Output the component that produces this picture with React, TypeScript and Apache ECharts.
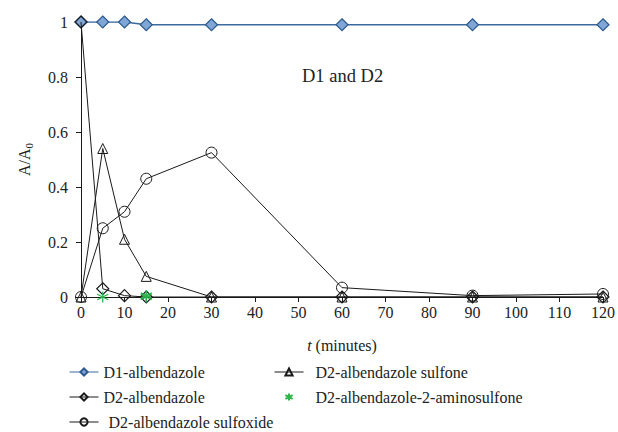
import React, { useEffect, useRef } from "react";
import * as echarts from "echarts";

const times = [0, 5, 10, 15, 30, 60, 90, 120];
const d1Albendazole = [1.0, 1.0, 1.0, 0.99, 0.99, 0.99, 0.99, 0.99];
const d2Albendazole = [1.0, 0.03, 0.005, 0.0, 0.0, 0.0, 0.0, 0.0];
const d2Sulfone = [0.0, 0.54, 0.21, 0.075, 0.0, 0.0, 0.0, 0.0];
const d2Sulfoxide = [0.0, 0.25, 0.31, 0.43, 0.525, 0.034, 0.005, 0.011];
const aminoTimes = [5, 15, 15];
const d2Aminosulfone = [0.0, 0.005, 0.0];
const xTicks = { min: 0, max: 120, interval: 10 };
const yTicks = { min: 0, max: 1, interval: 0.2 };
const legendCol1 = ["D1-albendazole", "D2-albendazole", "D2-albendazole sulfoxide"];
const legendCol2 = ["D2-albendazole sulfone", "D2-albendazole-2-aminosulfone"];

const FONT = "'Liberation Serif', 'Times New Roman', serif";
const asterisk = "path://M0,-5L0,5M-4.33,-2.5L4.33,2.5M-4.33,2.5L4.33,-2.5";

function pairs(xs: number[], ys: number[]) {
  return xs.map((x, i) => [x, ys[i]]);
}

export default function App() {
  const ref = useRef<HTMLDivElement>(null);
  useEffect(() => {
    document.body.style.margin = "0";
    if (!ref.current) return;
    const chart = echarts.init(ref.current, null, { renderer: "svg" });
    const black = "#1a1a1a";
    const rowY = [373, 398, 423];
    const mkLegend = (name: string, left: number, cy: number, padLeft: number) => ({
      orient: "vertical",
      left,
      top: cy - 9,
      itemWidth: 29,
      itemHeight: 9,
      itemGap: 0,
      padding: 0,
      lineStyle: { width: 1 },
      textStyle: { fontFamily: FONT, fontSize: 16, color: "#222", padding: [0, 0, 0, padLeft] },
      data: [name],
    });
    chart.setOption({
      animation: false,
      backgroundColor: "#fff",
      textStyle: { fontFamily: FONT, color: "#222" },
      grid: { left: 81, right: 15, top: 22, bottom: 135 },
      xAxis: {
        type: "value",
        min: xTicks.min,
        max: xTicks.max,
        interval: xTicks.interval,
        name: "{i|t} (minutes)",
        nameLocation: "middle",
        nameGap: 40,
        nameTextStyle: {
          fontFamily: FONT,
          fontSize: 16,
          color: "#222",
          rich: { i: { fontStyle: "italic", fontFamily: FONT, fontSize: 16, color: "#222" } },
        },
        axisLine: { lineStyle: { color: black, width: 1 } },
        axisTick: { show: true, length: 5, inside: false, lineStyle: { color: black } },
        axisLabel: { fontFamily: FONT, fontSize: 16, color: "#222", margin: 7 },
        splitLine: { show: false },
      },
      yAxis: {
        type: "value",
        min: yTicks.min,
        max: yTicks.max,
        interval: yTicks.interval,
        name: "A/A{s|0}",
        nameLocation: "middle",
        nameRotate: 90,
        nameGap: 47,
        nameTextStyle: {
          fontFamily: FONT,
          fontSize: 16,
          color: "#222",
          rich: { s: { fontFamily: FONT, fontSize: 11, color: "#222", padding: [9, 0, 0, 0] } },
        },
        axisLine: { show: true, lineStyle: { color: black, width: 1 } },
        axisTick: { show: true, length: 5, lineStyle: { color: black } },
        axisLabel: { fontFamily: FONT, fontSize: 16, color: "#222", margin: 13 },
        splitLine: { show: false },
      },
      legend: [
        mkLegend(legendCol1[0], 69, rowY[0], 0),
        mkLegend(legendCol1[1], 69, rowY[1], 0),
        mkLegend(legendCol1[2], 69, rowY[2], 5),
        mkLegend(legendCol2[0], 274, rowY[0], 7),
        mkLegend(legendCol2[1], 274, rowY[1], 7),
      ],
      graphic: [
        {
          type: "text",
          left: 302,
          top: 66,
          style: { text: "D1 and D2", fontFamily: FONT, fontSize: 18.5, fill: "#222" },
        },
      ],
      series: [
        {
          name: "D2-albendazole sulfoxide",
          type: "line",
          data: pairs(times, d2Sulfoxide),
          symbol: "circle",
          symbolSize: 11,
          lineStyle: { color: black, width: 1 },
          itemStyle: { color: "rgba(255,255,255,0)", borderColor: black, borderWidth: 1 },
          z: 3,
        },
        {
          name: "D2-albendazole sulfone",
          type: "line",
          data: pairs(times, d2Sulfone),
          symbol: "triangle",
          symbolSize: 10,
          lineStyle: { color: black, width: 1 },
          itemStyle: { color: "rgba(255,255,255,0)", borderColor: black, borderWidth: 1 },
          z: 3,
        },
        {
          name: "D1-albendazole",
          type: "line",
          data: pairs(times, d1Albendazole),
          symbol: "diamond",
          symbolSize: 12,
          lineStyle: { color: "#3d6a9e", width: 1.5 },
          itemStyle: { color: "#7fa6d6", borderColor: "#2c5a8e", borderWidth: 1.2 },
          z: 2,
        },
        {
          name: "D2-albendazole",
          type: "line",
          data: pairs(times, d2Albendazole),
          symbol: "diamond",
          symbolSize: 12,
          lineStyle: { color: black, width: 1 },
          itemStyle: { color: "rgba(255,255,255,0)", borderColor: black, borderWidth: 1.2 },
          z: 4,
        },
        {
          name: "D2-albendazole-2-aminosulfone",
          type: "line",
          data: pairs(aminoTimes, d2Aminosulfone),
          symbol: asterisk,
          symbolSize: 11,
          lineStyle: { width: 0, opacity: 0 },
          itemStyle: { color: "#2cb34a", borderColor: "#2cb34a", borderWidth: 1.3 },
          z: 5,
        },
      ],
    });
    return () => chart.dispose();
  }, []);
  return <div ref={ref} style={{ width: 618, height: 432 }} />;
}
